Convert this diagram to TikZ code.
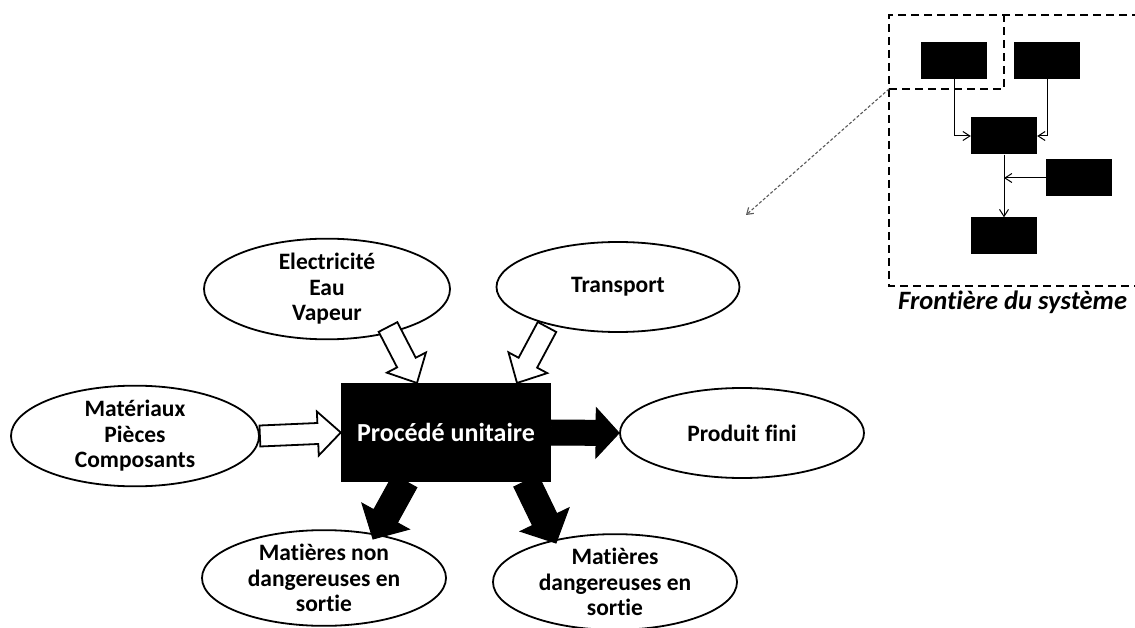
\documentclass[tikz,border=0pt]{standalone}
\usepackage{fontspec}
\setmainfont{Carlito}[Ligatures=NoCommon]
\usetikzlibrary{shapes.geometric,calc,arrows.meta}
\newcommand\blockarr[6]{%
  \path let \p1=(#1), \p2=(#2), \n1={atan2(\y2-\y1,\x2-\x1)}, \n2={veclen(\x2-\x1,\y2-\y1)} in
    \pgfextra{\xdef\bang{\n1}\xdef\blen{\n2}\xdef\bx{\x1}\xdef\by{\y1}};
  \begin{scope}[shift={(\bx,\by)}, rotate=\bang]
    \draw[#6] (0,-#3) -- ({\blen-#5},-#3) -- ({\blen-#5},-#4) -- (\blen,0) -- ({\blen-#5},#4) -- ({\blen-#5},#3) -- (0,#3) -- cycle;
  \end{scope}}
\begin{document}
\begin{tikzpicture}[x=1pt,y=1pt,
  ell/.style={ellipse, draw, line width=1.8pt, inner sep=0pt, minimum width=246pt, minimum height=90pt,
    align=center, font=\fontsize{23.5}{25.5}\selectfont\bfseries},
  procbox/.style={rectangle, fill=black, inner sep=0pt, minimum width=210pt, minimum height=99pt,
    text=white, font=\fontsize{26}{30}\selectfont\bfseries},
  sysbox/.style={rectangle, fill=black, inner sep=0pt, minimum width=66pt, minimum height=37pt},
  bound/.style={dashed, dash pattern=on 8pt off 5pt, line width=2.2pt},
  whitearr/.style={draw=black, fill=white, line width=1.8pt, line join=miter},
  blackarr/.style={draw=black, fill=black, line width=1pt},
  thinarr/.style={line width=1pt, -{Straight Barb[length=7pt,width=9pt]}}]
\useasboundingbox (0,0) rectangle (1135,-628);

% main diagram
\node[procbox] (proc) at (446,-432.5) {Procédé unitaire};
\node[ell] (elec) at (327,-289) {Electricité\\Eau\\Vapeur};
\node[ell, minimum width=243pt] (trans) at (618,-287) {Transport};
\node[ell, minimum width=248pt] (mat) at (135,-436) {Matériaux\\Pièces\\Composants};
\node[ell, minimum width=244pt] (prod) at (742,-433) {Produit fini};
\node[ell, minimum width=244pt] (nond) at (324,-578) {Matières non\\dangereuses en\\sortie};
\node[ell, minimum width=244pt] (dang) at (615,-582) {Matières\\dangereuses en\\sortie};

% arrow end points
\coordinate (a1s) at (mat.east);
\coordinate (a1e) at (proc.west);
\coordinate (a2s) at (388,-327);
\coordinate (a2e) at (417,-383);
\coordinate (a3s) at (547,-327);
\coordinate (a3e) at (517,-383);
\coordinate (a4s) at (proc.east);
\coordinate (a4e) at (prod.west);
\coordinate (a5s) at (405,-481);
\coordinate (a5e) at (373,-539);
\coordinate (a6s) at (526,-481);
\coordinate (a6e) at (556,-543);

\blockarr{a1s}{a1e}{10.5}{22}{23}{whitearr}
\blockarr{a2s}{a2e}{10.5}{22}{23}{whitearr}
\blockarr{a3s}{a3e}{10.5}{22}{23}{whitearr}
\blockarr{a4s}{a4e}{12.5}{25}{23}{blackarr}
\blockarr{a5s}{a5e}{13.5}{27}{26}{blackarr}
\blockarr{a6s}{a6e}{13.5}{27}{26}{blackarr}

% system boundary
\draw[bound] (1140,-15) -- (889,-15) -- (889,-286) -- (1140,-286);
\draw[bound] (889,-89) -- (1004,-89) -- (1004,-15);
\node[font=\fontsize{26.5}{30}\selectfont\bfseries\itshape, anchor=west, inner sep=0pt] (front) at (898,-302) {Frontière du système};

\node[sysbox] (b1) at (954,-60.5) {};
\node[sysbox] (b2) at (1047,-60.5) {};
\node[sysbox] (b3) at (1004,-136) {};
\node[sysbox] (b4) at (1079,-178) {};
\node[sysbox] (b5) at (1004,-236) {};

\draw[thinarr] (b1.south) |- (b3.west);
\draw[thinarr] (b2.south) |- (b3.east);
\coordinate (mid) at (b3.south |- b4.west);
\draw[thinarr] (b4.west) -- (mid);
\draw[thinarr] (b3.south) -- (b5.north);

\coordinate (dstart) at (889,-89);
\coordinate (dend) at (746,-215);
\draw[gray!70!black, line width=1.1pt, dash pattern=on 3pt off 2pt, -{Straight Barb[length=6pt,width=8pt]}] (dstart) -- (dend);
\end{tikzpicture}
\end{document}
